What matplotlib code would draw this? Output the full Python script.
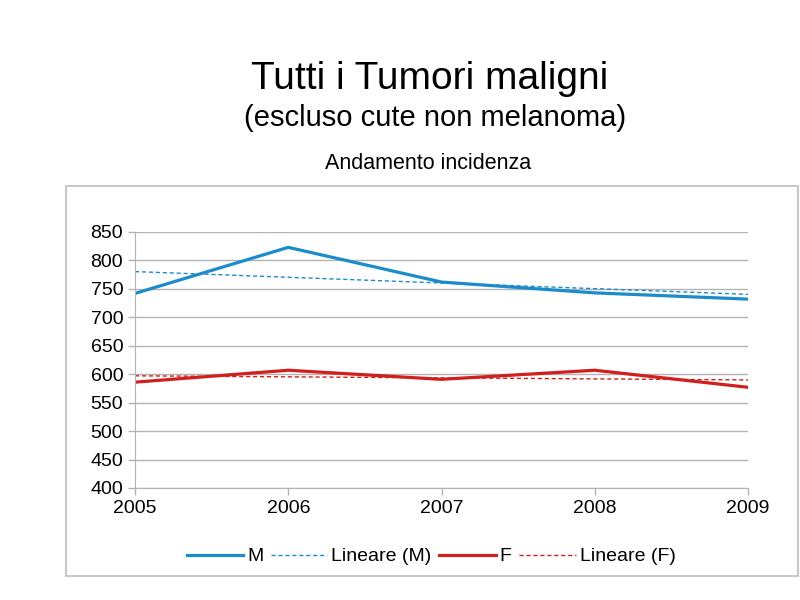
import numpy as np
import matplotlib

matplotlib.use("Agg")
import matplotlib.pyplot as plt
from matplotlib.patches import Rectangle

plt.rcParams["font.family"] = ["Liberation Sans", "DejaVu Sans"]

anni = [2005, 2006, 2007, 2008, 2009]
maschi = [742, 823, 762, 743, 732]
femmine = [586, 607, 591, 607, 577]
yticks = list(range(400, 851, 50))

blu = "#1b8bcb"
rosso = "#d0201d"

fig = plt.figure(figsize=(8, 6), dpi=100)
fig.patches.append(Rectangle((66 / 800, 1 - 576 / 600), 732 / 800, 390 / 600,
                             transform=fig.transFigure, fill=False,
                             edgecolor="#c8c8c8", linewidth=1.5))

fig.text(0.537, 0.868, "Tutti i Tumori maligni", ha="center", va="center", fontsize=28)
fig.text(0.544, 0.803, "(escluso cute non melanoma)", ha="center", va="center", fontsize=21)
fig.text(0.535, 0.728, "Andamento incidenza", ha="center", va="center", fontsize=15.5)

ax = fig.add_axes([135 / 800, 1 - 488 / 600, 613 / 800, 256 / 600])

x = np.array(anni)
fit_m = np.polyval(np.polyfit(x, maschi, 1), x)
fit_f = np.polyval(np.polyfit(x, femmine, 1), x)

ax.plot(x, maschi, color=blu, linewidth=2.3, label="M")
ax.plot(x, fit_m, color=blu, linewidth=1, linestyle=(0, (3, 2)), label="Lineare (M)")
ax.plot(x, femmine, color=rosso, linewidth=2.3, label="F")
ax.plot(x, fit_f, color=rosso, linewidth=1, linestyle=(0, (3, 2)), label="Lineare (F)")

ax.set_xlim(2005, 2009)
ax.set_ylim(400, 850)
ax.set_xticks(anni)
ax.set_yticks(yticks)
ax.tick_params(labelsize=14, color="#b3b3b3", length=5, width=1)
ax.yaxis.grid(True, color="#b3b3b3", linewidth=1)
ax.set_axisbelow(True)
for s in ["top", "right"]:
    ax.spines[s].set_visible(False)
for s in ["left", "bottom"]:
    ax.spines[s].set_color("#b3b3b3")

ax.legend(loc="upper center", bbox_to_anchor=(0.483, -0.165), ncol=4, frameon=False,
          fontsize=14, handlelength=2.9, handletextpad=0.2, columnspacing=0.4)

fig.savefig("out.png", dpi=100)
